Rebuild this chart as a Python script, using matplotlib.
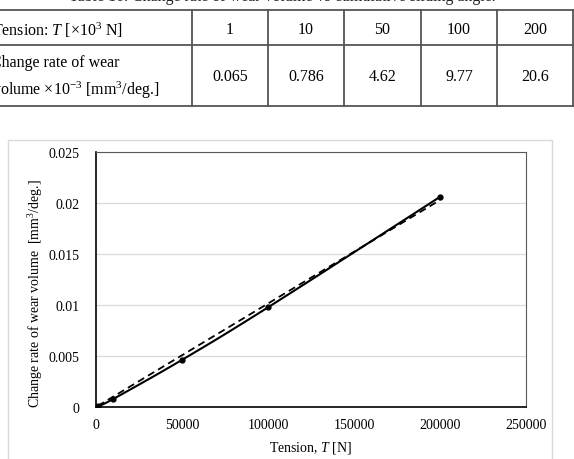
import numpy as np
import matplotlib
matplotlib.use("Agg")
import matplotlib.pyplot as plt
from matplotlib.patches import Rectangle

plt.rcParams['font.family'] = ['Liberation Serif', 'DejaVu Serif']
plt.rcParams['mathtext.fontset'] = 'custom'
plt.rcParams['mathtext.rm'] = 'Liberation Serif'
plt.rcParams['mathtext.it'] = 'Liberation Serif:italic'

# data (table values)
tension_k = [1, 10, 50, 100, 200]            # x10^3 N
rate_e3 = [0.065, 0.786, 4.62, 9.77, 20.6]   # x10^-3 mm^3/deg.
xticks = [0, 50000, 100000, 150000, 200000, 250000]
yticks = [0, 0.005, 0.01, 0.015, 0.02, 0.025]
ytick_labels = ['0', '0.005', '0.01', '0.015', '0.02', '0.025']

x = np.array(tension_k) * 1000.0
y = np.array(rate_e3) * 1e-3

W, H = 574, 460
fig = plt.figure(figsize=(W / 100, H / 100), dpi=100)

# overlay in pixel coords for the table and chart frame
ov = fig.add_axes([0, 0, 1, 1])
ov.set_xlim(0, W)
ov.set_ylim(H, 0)
ov.axis('off')

ov.add_patch(Rectangle((8, 141), 544, 330, fill=False, ec='#d9d9d9', lw=1))

# caption, mostly cut off at the top edge
ov.text(282, 1, 'Table 10. Change rate of wear volume vs cumulative sliding angle.',
        ha='center', va='baseline', fontsize=11.5, color='#222222')

lc = '#555555'
for yy in [11, 46, 107]:
    ov.plot([-5, W + 5], [yy, yy], color=lc, lw=1.3)
col_x = [192, 268, 344, 421, 497, 573]
for xx in col_x:
    ov.plot([xx, xx], [11, 107], color=lc, lw=1.3)

fs = 11.5
ov.text(-8, 30, 'Tension: $T$ [×10$^3$ N]', ha='left', va='center', fontsize=fs)
ov.text(-9, 63, 'Change rate of wear', ha='left', va='center', fontsize=fs)
ov.text(-8, 90, 'volume ×10$^{-3}$ [mm$^3$/deg.]', ha='left', va='center', fontsize=fs)
for i, (t, r) in enumerate(zip(tension_k, rate_e3)):
    cx = (col_x[i] + col_x[i + 1]) / 2
    ov.text(cx, 30, str(t), ha='center', va='center', fontsize=fs)
    ov.text(cx, 77, f'{r:g}', ha='center', va='center', fontsize=fs)

# chart
ax = fig.add_axes([96 / W, (H - 408) / H, 430 / W, 255 / H])
ax.set_xlim(0, 250000)
ax.set_ylim(0, 0.025)

# excel style smoothed line (bezier, computed in normalised coords)
px = x / 250000.0 * 430
py = y / 0.025 * 255
P = np.column_stack([px, py])
n = len(P)
sx, sy = [], []
t = np.linspace(0, 1, 30)
for i in range(n - 1):
    p0 = P[max(i - 1, 0)]
    p1 = P[i]
    p2 = P[i + 1]
    p3 = P[min(i + 2, n - 1)]
    c1 = p1 + (p2 - p0) / 6
    c2 = p2 - (p3 - p1) / 6
    b = ((1 - t) ** 3)[:, None] * p1 + (3 * (1 - t) ** 2 * t)[:, None] * c1 \
        + (3 * (1 - t) * t ** 2)[:, None] * c2 + (t ** 3)[:, None] * p2
    sx.extend(b[:, 0])
    sy.extend(b[:, 1])
sx = np.array(sx) / 430 * 250000
sy = np.array(sy) / 255 * 0.025

ax.plot(sx, sy, color='black', lw=1.5, zorder=3)
ax.plot(x, y, 'o', color='black', ms=3.5, zorder=4)

# linear trendline through origin
k = np.sum(x * y) / np.sum(x * x)
tx = np.array([x.min(), x.max()])
ax.plot(tx, k * tx, color='black', lw=1.3, ls=(0, (4, 2.5)), zorder=3)

ax.set_xticks(xticks)
ax.set_xticklabels([str(v) for v in xticks])
ax.set_yticks(yticks)
ax.set_yticklabels(ytick_labels)
ax.tick_params(length=0, labelsize=10, pad=8)
ax.tick_params(axis='y', pad=12)
ax.yaxis.grid(True, color='#d9d9d9', lw=0.9)
ax.set_axisbelow(True)
for s in ['top', 'right']:
    ax.spines[s].set_color('#595959')
for s in ['left', 'bottom']:
    ax.spines[s].set_color('black')
    ax.spines[s].set_linewidth(1.2)

ax.set_xlabel('Tension, $T$ [N]', fontsize=10, labelpad=6)
ax.set_ylabel('Change rate of wear volume  [mm$^3$/deg.]', fontsize=10)
ax.yaxis.set_label_coords(-0.118, 0.45)

fig.savefig('out.png', dpi=100)
